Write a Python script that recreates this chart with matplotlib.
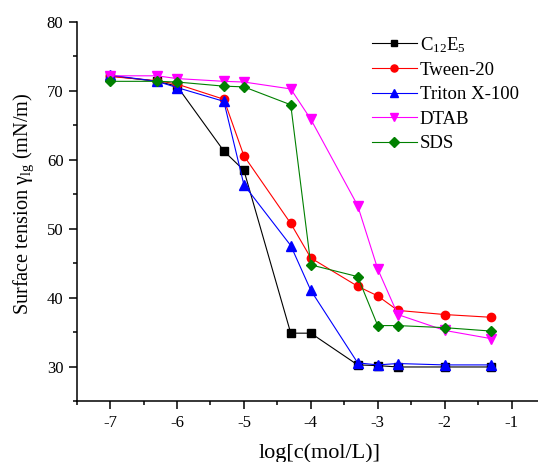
import matplotlib

matplotlib.use("Agg")
import matplotlib.pyplot as plt
from matplotlib.ticker import MultipleLocator

plt.rcParams["font.family"] = ["Liberation Serif", "DejaVu Serif"]
plt.rcParams["mathtext.fontset"] = "custom"
plt.rcParams["mathtext.rm"] = "Liberation Serif"
plt.rcParams["mathtext.it"] = "Liberation Serif:italic"
plt.rcParams["axes.unicode_minus"] = False

# log concentration (mol/L)
log_c = [-7, -6.3, -6, -5.3, -5, -4.3, -4, -3.3, -3, -2.7, -2, -1.3]

c12e5 = [72.2, 71.4, 70.7, 61.3, 58.5, 34.9, 34.9, 30.3, 30.2, 30.0, 30.0, 30.0]
tween20 = [72.1, 71.5, 71.0, 68.8, 60.6, 50.8, 45.8, 41.7, 40.3, 38.2, 37.6, 37.2]
triton = [72.3, 71.4, 70.5, 68.5, 56.4, 47.6, 41.1, 30.6, 30.3, 30.5, 30.3, 30.3]
dtab = [72.2, 72.2, 71.8, 71.4, 71.3, 70.3, 65.9, 53.4, 44.2, 37.6, 35.3, 34.1]
sds = [71.4, 71.4, 71.3, 70.7, 70.6, 68.0, 44.8, 43.1, 36.0, 36.0, 35.7, 35.2]

series = [
    ("C$_{12}$E$_5$", c12e5, "black", "s", 5.5),
    ("Tween-20", tween20, "red", "o", 6.0),
    ("Triton X-100", triton, "blue", "^", 6.5),
    ("DTAB", dtab, "magenta", "v", 6.5),
    ("SDS", sds, "green", "D", 5.5),
]

fig = plt.figure(figsize=(5.38, 4.62), dpi=100)
ax = fig.add_axes([0.1425, 0.131, 0.858, 0.8214])

for label, vals, col, mk, ms in series:
    ax.plot(log_c, vals, color=col, marker=mk, markersize=ms, linewidth=0.8,
            markeredgecolor=col, label=label)

ax.set_xlim(-7.5, -0.6)
ax.set_ylim(25, 80)
ax.set_xticks([-7, -6, -5, -4, -3, -2, -1])
ax.xaxis.set_minor_locator(MultipleLocator(0.5))
ax.yaxis.set_major_locator(MultipleLocator(10))
ax.yaxis.set_minor_locator(MultipleLocator(5))
ax.spines["top"].set_visible(False)
ax.spines["right"].set_visible(False)
ax.spines["left"].set_linewidth(1.1)
ax.spines["bottom"].set_linewidth(1.1)
ax.tick_params(which="major", direction="out", length=5.5, width=1.1, labelsize=12, pad=4)
ax.tick_params(which="minor", direction="out", length=3, width=1.1)

ax.set_xlabel("log[c(mol/L)]", fontsize=16)
ax.xaxis.set_label_coords(0.527, -0.109)
ax.set_ylabel("Surface tension γ$_{\\mathrm{lg}}$ (mN/m)", fontsize=14.6)
ax.yaxis.set_label_coords(-0.088, 0.52)

ax.legend(loc="upper left", bbox_to_anchor=(0.623, 0.986), frameon=False, fontsize=13.5,
          handlelength=2.4, labelspacing=0.39, handletextpad=0.15, markerscale=0.85,
          borderaxespad=0)

fig.savefig("out.png", dpi=100)
